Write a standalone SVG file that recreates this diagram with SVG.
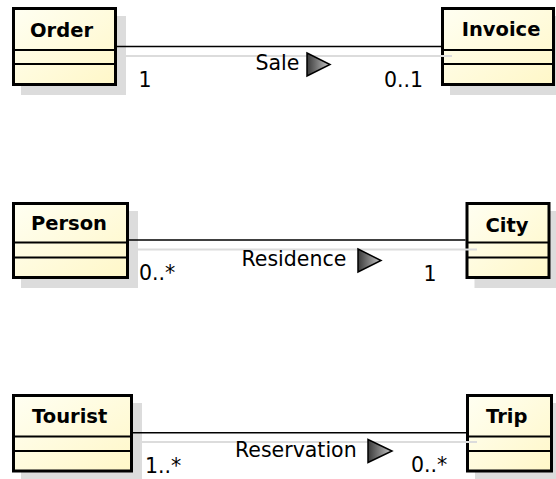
<svg xmlns="http://www.w3.org/2000/svg" width="556" height="479" viewBox="0 0 556 479">
<defs>
<linearGradient id="boxFill" x1="0" y1="0" x2="1" y2="1">
<stop offset="0" stop-color="#FFFFF2"/>
<stop offset="1" stop-color="#FFF7C8"/>
</linearGradient>
<linearGradient id="triFill" x1="0" y1="0" x2="1" y2="0">
<stop offset="0" stop-color="#3a3a3a"/>
<stop offset="1" stop-color="#c8c8c8"/>
</linearGradient>
</defs>
<style>
.shadow{fill:#DCDCDC;stroke:none}
.box{fill:url(#boxFill);stroke:#000;stroke-width:3}
.div{stroke:#000;stroke-width:2}
.title{font-family:"DejaVu Sans",Verdana,sans-serif;font-weight:bold;font-size:19.5px;fill:#000;text-anchor:middle}
.lbl{font-family:"DejaVu Sans",Verdana,sans-serif;font-size:20.5px;fill:#000}
.line{stroke:#000;stroke-width:1.5;fill:none}
.lshadow{stroke:#DCDCDC;stroke-width:2;fill:none}
.tri{fill:url(#triFill);stroke:#000;stroke-width:1.5;stroke-linejoin:miter}
</style>
<rect width="556" height="479" fill="#fff"/>

<g id="node-order">
<rect class="shadow" x="21" y="16" width="105" height="79"/>
<rect class="box" x="13.5" y="8.5" width="102" height="76"/>
<line class="div" x1="13.5" y1="50" x2="115.5" y2="50"/>
<line class="div" x1="13.5" y1="64" x2="115.5" y2="64"/>
<text class="title" x="61.5" y="36.5">Order</text>
</g>

<g id="node-invoice">
<rect class="shadow" x="450" y="16" width="114" height="79"/>
<rect class="box" x="442.5" y="8.5" width="111" height="76"/>
<line class="div" x1="442.5" y1="50" x2="553.5" y2="50"/>
<line class="div" x1="442.5" y1="64" x2="553.5" y2="64"/>
<text class="title" x="501" y="35.5">Invoice</text>
</g>

<g id="node-person">
<rect class="shadow" x="21" y="211" width="117" height="77"/>
<rect class="box" x="13.5" y="203.5" width="114" height="74"/>
<line class="div" x1="13.5" y1="242.5" x2="127.5" y2="242.5"/>
<line class="div" x1="13.5" y1="257.5" x2="127.5" y2="257.5"/>
<text class="title" x="69" y="230">Person</text>
</g>

<g id="node-city">
<rect class="shadow" x="474.5" y="211" width="85" height="77"/>
<rect class="box" x="467" y="203.5" width="82" height="74"/>
<line class="div" x1="467" y1="242.5" x2="549" y2="242.5"/>
<line class="div" x1="467" y1="257.5" x2="549" y2="257.5"/>
<text class="title" x="507" y="231.5">City</text>
</g>

<g id="node-tourist">
<rect class="shadow" x="21" y="403" width="121" height="78.5"/>
<rect class="box" x="13.5" y="395.5" width="118" height="75.5"/>
<line class="div" x1="13.5" y1="436.5" x2="131.5" y2="436.5"/>
<line class="div" x1="13.5" y1="451" x2="131.5" y2="451"/>
<text class="title" x="69.7" y="423.3">Tourist</text>
</g>

<g id="node-trip">
<rect class="shadow" x="475" y="403" width="87" height="78.5"/>
<rect class="box" x="467.5" y="395.5" width="84" height="75.5"/>
<line class="div" x1="467.5" y1="436.5" x2="551.5" y2="436.5"/>
<line class="div" x1="467.5" y1="451" x2="551.5" y2="451"/>
<text class="title" x="506.7" y="423.3">Trip</text>
</g>

<g id="connectors">
<g id="conn-sale">
<line class="lshadow" x1="124" y1="56" x2="452" y2="56"/>
<line class="line" x1="117" y1="46.5" x2="441" y2="46.5"/>
<text class="lbl" x="255.5" y="70">Sale</text>
<polygon class="tri" points="307,53 330,64.5 307,76"/>
<text class="lbl" x="138.5" y="87">1</text>
<text class="lbl" x="384" y="87">0..1</text>
</g>
<g id="conn-residence">
<line class="lshadow" x1="136" y1="249.5" x2="477" y2="249.5"/>
<line class="line" x1="129" y1="240" x2="465.5" y2="240"/>
<text class="lbl" x="241.5" y="266">Residence</text>
<polygon class="tri" points="358,249 381,260.5 358,272"/>
<text class="lbl" x="139" y="280">0..*</text>
<text class="lbl" x="423.5" y="280.5">1</text>
</g>
<g id="conn-reservation">
<line class="lshadow" x1="140" y1="442" x2="477" y2="442"/>
<line class="line" x1="133" y1="432.7" x2="466" y2="432.7"/>
<text class="lbl" x="235" y="456.7">Reservation</text>
<polygon class="tri" points="368,439.5 392,451 368,462.5"/>
<text class="lbl" x="145" y="473">1..*</text>
<text class="lbl" x="411" y="472">0..*</text>
</g>
</g>
</svg>
